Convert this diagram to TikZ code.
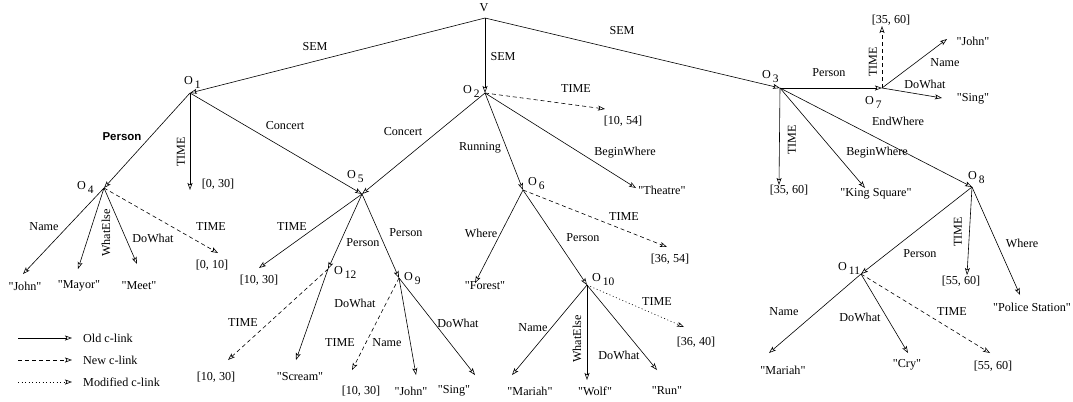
\documentclass[tikz,border=0pt]{standalone}
\usepackage{fontspec}
\setmainfont{Liberation Serif}[Ligatures=TeXOff]
\newfontfamily\boldsans{Liberation Sans}
\usetikzlibrary{arrows.meta}
\newcommand{\objlab}[1]{O\hspace{2bp}\raisebox{-4bp}{\fontsize{11.5}{12}\selectfont #1}}
\begin{document}
\begin{tikzpicture}[x=1bp,y=-1bp,
  font=\fontsize{12.2}{14}\selectfont,
  link/.style={line width=0.6bp,-{Stealth[open,length=7bp,width=5bp,inset=1.5bp]}},
  newlink/.style={link,dash pattern=on 4bp off 3bp},
  modlink/.style={link,dash pattern=on 1bp off 2.5bp},
  lbl/.style={inner sep=0pt},
  objl/.style={inner sep=0pt,anchor=base west},
  rlbl/.style={inner sep=0pt,rotate=90}]
\useasboundingbox (0,0) rectangle (1073,401);
\fill[white] (0,0) rectangle (1073,401);

% object points
\coordinate (V) at (485,18);
\coordinate (O1) at (190,93);
\coordinate (O2) at (485,93);
\coordinate (O3) at (780,88);
\coordinate (O4) at (104,188);
\coordinate (O5) at (362,194);
\coordinate (O6) at (523,190);
\coordinate (O7) at (882,88);
\coordinate (O8) at (972,187);
\coordinate (O9) at (399,278);
\coordinate (O10) at (587,285);
\coordinate (O11) at (861,274);
\coordinate (O12) at (328,269);

% object labels
\node[lbl] (Vl) at (484,8) {V};
\node[objl] (O1l) at (184,84) {\objlab{1}};
\node[objl] (O2l) at (463,93) {\objlab{2}};
\node[objl] (O3l) at (762,78) {\objlab{3}};
\node[objl] (O4l) at (77,189) {\objlab{4}};
\node[objl] (O5l) at (347,178) {\objlab{5}};
\node[objl] (O6l) at (528,185) {\objlab{6}};
\node[objl] (O7l) at (865,104) {\objlab{7}};
\node[objl] (O8l) at (968,179) {\objlab{8}};
\node[objl] (O9l) at (404,280) {\objlab{9}};
\node[objl] (O10l) at (592,281) {\objlab{10}};
\node[objl] (O11l) at (838,270) {\objlab{11}};
\node[objl] (O12l) at (334,274) {\objlab{12}};

% leaf tips
\coordinate (t1) at (190,190);
\coordinate (t2) at (605,109);
\coordinate (tTh) at (636,188);
\coordinate (t3) at (779,185);
\coordinate (tKS) at (865,188);
\coordinate (t7) at (882,26);
\coordinate (tJ7) at (947,39);
\coordinate (tS7) at (942,98);
\coordinate (tJ4) at (23,274);
\coordinate (tMy) at (78,269);
\coordinate (tMt) at (137,264);
\coordinate (t4) at (218,253);
\coordinate (t5) at (259,268);
\coordinate (t12) at (228,360);
\coordinate (tSc) at (296,360);
\coordinate (t9) at (352,370);
\coordinate (tJ9) at (416,375);
\coordinate (tS9) at (475,375);
\coordinate (tFo) at (475,283);
\coordinate (t6) at (667,247);
\coordinate (tMa10) at (512,375);
\coordinate (tWo) at (587,380);
\coordinate (tRu) at (657,370);
\coordinate (t10) at (684,327);
\coordinate (t8) at (967,275);
\coordinate (tPS) at (1020,295);
\coordinate (tMa11) at (769,353);
\coordinate (tCr) at (908,353);
\coordinate (t11) at (990,353);

% edges
\draw[link] (V) -- (O1);
\draw[link] (V) -- (O2);
\draw[link] (V) -- (O3);
\draw[link] (O1) -- (O4);
\draw[link] (O1) -- (t1);
\draw[link] (O1) -- (O5);
\draw[link] (O2) -- (O5);
\draw[link] (O2) -- (O6);
\draw[newlink] (O2) -- (t2);
\draw[link] (O2) -- (tTh);
\draw[link] (O3) -- (O7);
\draw[link] (O3) -- (t3);
\draw[link] (O3) -- (tKS);
\draw[link] (O3) -- (O8);
\draw[newlink] (O7) -- (t7);
\draw[link] (O7) -- (tJ7);
\draw[link] (O7) -- (tS7);
\draw[link] (O4) -- (tJ4);
\draw[link] (O4) -- (tMy);
\draw[link] (O4) -- (tMt);
\draw[newlink] (O4) -- (t4);
\draw[link] (O5) -- (t5);
\draw[link] (O5) -- (O12);
\draw[link] (O5) -- (O9);
\draw[newlink] (O12) -- (t12);
\draw[link] (O12) -- (tSc);
\draw[newlink] (O9) -- (t9);
\draw[link] (O9) -- (tJ9);
\draw[link] (O9) -- (tS9);
\draw[link] (O6) -- (tFo);
\draw[link] (O6) -- (O10);
\draw[newlink] (O6) -- (t6);
\draw[link] (O10) -- (tMa10);
\draw[link] (O10) -- (tWo);
\draw[link] (O10) -- (tRu);
\draw[modlink] (O10) -- (t10);
\draw[link] (O8) -- (O11);
\draw[link] (O8) -- (t8);
\draw[link] (O8) -- (tPS);
\draw[link] (O11) -- (tMa11);
\draw[link] (O11) -- (tCr);
\draw[newlink] (O11) -- (t11);

% edge labels
\node[lbl] (l1) at (315,47) {SEM};
\node[lbl] (l2) at (503,57) {SEM};
\node[lbl] (l3) at (622,31) {SEM};
\node[lbl] (l4) at (122,137) {\boldsans\bfseries\fontsize{11.5}{13}\selectfont Person};
\node[rlbl] (l5) at (181,152) {TIME};
\node[lbl] (l6) at (285,126) {Concert};
\node[lbl] (l7) at (403,132) {Concert};
\node[lbl] (l8) at (480,148) {Running};
\node[lbl] (l9) at (576,89) {TIME};
\node[lbl] (l10) at (625,153) {BeginWhere};
\node[lbl] (l11) at (829,73) {Person};
\node[rlbl] (l12) at (873,62) {TIME};
\node[lbl] (l13) at (945,63) {Name};
\node[lbl] (l14) at (925,84) {DoWhat};
\node[lbl] (l15) at (898,121) {EndWhere};
\node[rlbl] (l16) at (792,140) {TIME};
\node[lbl] (l17) at (877,153) {BeginWhere};
\node[lbl] (l18) at (44,227) {Name};
\node[rlbl] (l19) at (106,233) {WhatElse};
\node[lbl] (l20) at (153,238) {DoWhat};
\node[lbl] (l21) at (211,227) {TIME};
\node[lbl] (l22) at (292,227) {TIME};
\node[lbl] (l23) at (363,243) {Person};
\node[lbl] (l24) at (406,233) {Person};
\node[lbl] (l25) at (243,323) {TIME};
\node[lbl] (l26) at (355,303) {DoWhat};
\node[lbl] (l27) at (340,343) {TIME};
\node[lbl] (l28) at (387,343) {Name};
\node[lbl] (l29) at (458,323) {DoWhat};
\node[lbl] (l30) at (481,233) {Where};
\node[lbl] (l31) at (583,238) {Person};
\node[lbl] (l32) at (624,217) {TIME};
\node[lbl] (l33) at (533,328) {Name};
\node[rlbl] (l34) at (577,339) {WhatElse};
\node[lbl] (l35) at (619,355) {DoWhat};
\node[lbl] (l36) at (657,302) {TIME};
\node[lbl] (l37) at (920,254) {Person};
\node[rlbl] (l38) at (958,232) {TIME};
\node[lbl] (l39) at (1022,243) {Where};
\node[lbl] (l40) at (784,312) {Name};
\node[lbl] (l41) at (860,317) {DoWhat};
\node[lbl] (l42) at (952,312) {TIME};

% leaf values
\node[lbl] (v1) at (218,184) {[0, 30]};
\node[lbl] (v2) at (623,121) {[10, 54]};
\node[lbl] (vTh) at (662,190) {"Theatre"};
\node[lbl] (v7) at (891,20) {[35, 60]};
\node[lbl] (vJ7) at (973,41) {"John"};
\node[lbl] (vS7) at (973,99) {"Sing"};
\node[lbl] (v3) at (789,190) {[35, 60]};
\node[lbl] (vKS) at (876,194) {"King Square"};
\node[lbl] (vJ4) at (25,286) {"John"};
\node[lbl] (vMy) at (79,286) {"Mayor"};
\node[lbl] (vMt) at (139,286) {"Meet"};
\node[lbl] (v4) at (212,265) {[0, 10]};
\node[lbl] (v5) at (259,280) {[10, 30]};
\node[lbl] (v12) at (216,377) {[10, 30]};
\node[lbl] (vSc) at (300,377) {"Scream"};
\node[lbl] (v9) at (361,391) {[10, 30]};
\node[lbl] (vJ9) at (411,391) {"John"};
\node[lbl] (vS9) at (454,391) {"Sing"};
\node[lbl] (vFo) at (485,286) {"Forest"};
\node[lbl] (v6) at (670,259) {[36, 54]};
\node[lbl] (vMa10) at (530,391) {"Mariah"};
\node[lbl] (vWo) at (595,391) {"Wolf"};
\node[lbl] (vRu) at (667,391) {"Run"};
\node[lbl] (v10) at (696,342) {[36, 40]};
\node[lbl] (v8) at (961,281) {[55, 60]};
\node[lbl] (vPS) at (1032,307) {"Police Station"};
\node[lbl] (vMa11) at (783,370) {"Mariah"};
\node[lbl] (vCr) at (907,365) {"Cry"};
\node[lbl] (v11) at (993,366) {[55, 60]};

% legend
\coordinate (ga) at (18,338); \coordinate (gb) at (72,338);
\coordinate (gc) at (18,360); \coordinate (gd) at (72,360);
\coordinate (ge) at (18,382); \coordinate (gf) at (72,382);
\draw[link] (ga) -- (gb);
\draw[newlink] (gc) -- (gd);
\draw[modlink] (ge) -- (gf);
\node[lbl,anchor=west] (g1) at (83,338) {Old c-link};
\node[lbl,anchor=west] (g2) at (83,360) {New c-link};
\node[lbl,anchor=west] (g3) at (83,382) {Modified c-link};
\end{tikzpicture}
\end{document}
